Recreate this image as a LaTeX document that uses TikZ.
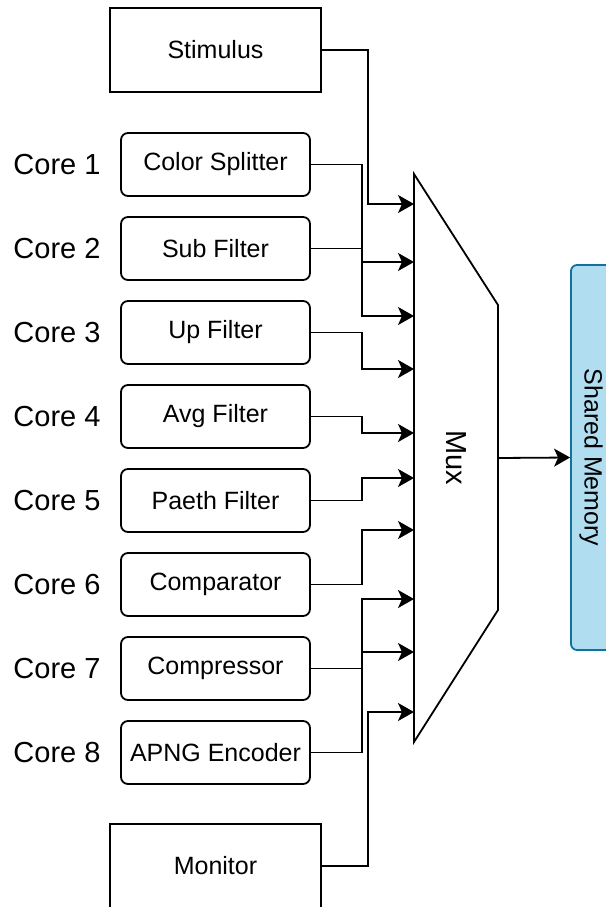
\documentclass[tikz,border=0pt]{standalone}
\usepackage{fontspec}
\setmainfont{Liberation Sans}
\usetikzlibrary{arrows.meta}

\definecolor{memfill}{HTML}{B1DDF0}
\definecolor{memline}{HTML}{10739E}

\tikzset{
  blockbox/.style={draw, line width=1.8pt, minimum width=211pt, minimum height=84pt, font=\fontsize{25}{30}\selectfont},
  corebox/.style={draw, line width=1.8pt, rounded corners=7pt, minimum width=189pt, minimum height=63pt, font=\fontsize{25}{30}\selectfont},
  corelabel/.style={font=\fontsize{29}{34}\selectfont},
  link/.style={line width=1.8pt, -{Stealth[length=16pt, width=18pt, inset=4pt]}},
}

\begin{document}
\begin{tikzpicture}[x=1pt,y=-1pt]
\useasboundingbox (0,0) rectangle (605,907);

% blocks
\node[blockbox] (stim) at (215.5,50) {Stimulus};
\node[blockbox] (monitor) at (215.5,866) {Monitor};

\node[corebox] (c1) at (215.5,164.5) {Color Splitter};
\node[corebox] (c2) at (215.5,248.5) {Sub Filter};
\node[corebox] (c3) at (215.5,332.5) {Up Filter};
\node[corebox] (c4) at (215.5,416.5) {Avg Filter};
\node[corebox] (c5) at (215.5,500.5) {Paeth Filter};
\node[corebox] (c6) at (215.5,584.5) {Comparator};
\node[corebox] (c7) at (215.5,668.5) {Compressor};
\node[corebox] (c8) at (215.5,752.5) {APNG Encoder};

% core labels
\node[corelabel] (l1) at (57,164.5) {Core 1};
\node[corelabel] (l2) at (57,248.5) {Core 2};
\node[corelabel] (l3) at (57,332.5) {Core 3};
\node[corelabel] (l4) at (57,416.5) {Core 4};
\node[corelabel] (l5) at (57,500.5) {Core 5};
\node[corelabel] (l6) at (57,584.5) {Core 6};
\node[corelabel] (l7) at (57,668.5) {Core 7};
\node[corelabel] (l8) at (57,752.5) {Core 8};

% mux
\draw[line width=1.8pt] (414,174) -- (498,305) -- (498,610) -- (414,742) -- cycle;
\node[rotate=-90, font=\fontsize{29}{32}\selectfont] (muxtext) at (456,458) {Mux};
\coordinate (in1) at (414,204);
\coordinate (in2) at (414,262);
\coordinate (in3) at (414,316);
\coordinate (in4) at (414,369);
\coordinate (in5) at (414,433);
\coordinate (in6) at (414,478);
\coordinate (in7) at (414,530);
\coordinate (in8) at (414,599);
\coordinate (in9) at (414,652);
\coordinate (in10) at (414,712);
\coordinate (muxout) at (498,458);

% shared memory
\node[draw=memline, fill=memfill, line width=1.8pt, rounded corners=6pt, rotate=-90,
      minimum width=385pt, minimum height=40pt, inner sep=0pt,
      font=\fontsize{25}{30}\selectfont] (mem) at (591,457.5) {Shared Memory};

% connectors
\draw[link] (stim.east) -| ([xshift=-46pt]in1) -- (in1);
\draw[link] (c1.east) -| ([xshift=-52pt]in2) -- (in2);
\draw[link] (c2.east) -| ([xshift=-52pt]in3) -- (in3);
\draw[link] (c3.east) -| ([xshift=-52pt]in4) -- (in4);
\draw[link] (c4.east) -| ([xshift=-52pt]in5) -- (in5);
\draw[link] (c5.east) -| ([xshift=-52pt]in6) -- (in6);
\draw[link] (c6.east) -| ([xshift=-52pt]in7) -- (in7);
\draw[link] (c7.east) -| ([xshift=-52pt]in8) -- (in8);
\draw[link] (c8.east) -| ([xshift=-52pt]in9) -- (in9);
\draw[link] (monitor.east) -| ([xshift=-46pt]in10) -- (in10);
\draw[link] (muxout) -- (mem.south);

\end{tikzpicture}
\end{document}
